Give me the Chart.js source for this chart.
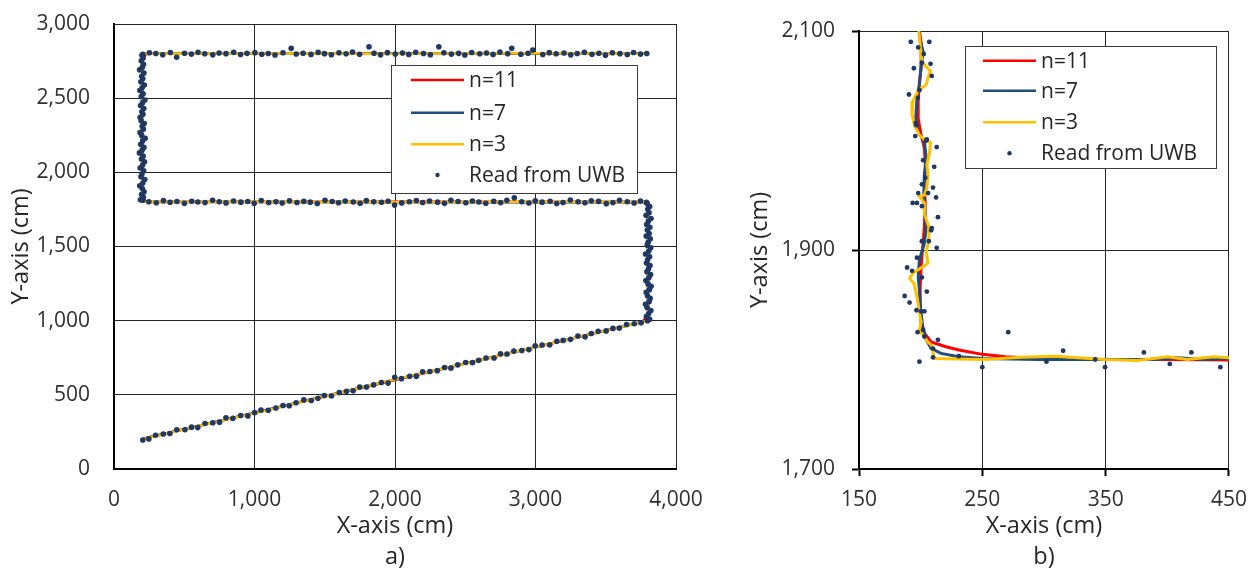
<!DOCTYPE html>
<html>
<head>
<meta charset="utf-8">
<script src="https://cdn.jsdelivr.net/npm/chart.js@4.4.1/dist/chart.umd.min.js"></script>
<style>
  body { margin: 0; background: #fff; }
  #wrapA { position: absolute; left: 0; top: 0; width: 740px; height: 570px; }
  #wrapB { position: absolute; left: 740px; top: 0; width: 518px; height: 570px; }
</style>
</head>
<body>
<div id="wrapA"><canvas id="chartA" width="740" height="570"></canvas></div>
<div id="wrapB"><canvas id="chartB" width="518" height="570"></canvas></div>
<script>
// ---------- panel a) : whole path ----------
var xTicksA = [0, 1000, 2000, 3000, 4000];
var yTicksA = [0, 500, 1000, 1500, 2000, 2500, 3000];

// UWB readings, leg 1 (diagonal), leg 2 (right side up), leg 3 (back left),
// leg 4 (left side up), leg 5 (top run)
var uwbAX = [205,248,296,351,398,447,505,552,596,648,703,751,797,846,902,953,1001,1046,1098,1152,
  1203,1247,1296,1351,1404,1452,1497,1548,1603,1655,1702,1749,1797,1848,1903,1951,1998,2046,2104,2152,
  2197,2248,2301,2353,2398,2447,2503,2552,2596,2648,2705,2751,2797,2846,2903,2953,2998,3047,3101,3152,
  3197,3249,3302,3353,3397,3446,3503,3551,3597,3648,3703,3752,3798,
  3812,3789,3805,3821,3794,3783,3809,3816,3797,3788,3811,3823,3801,3786,3807,3819,3793,3804,3815,3790,
  3798,3812,3783,3806,3820,3795,3802,3817,3788,3809,3796,3814,3791,3803,3822,3787,3808,3799,3813,3795,
  3790,3747,3702,3653,3598,3551,3504,3449,3397,3352,3303,3248,3196,3151,3104,3047,2998,2953,2902,2849,
  2796,2752,2703,2646,2597,2551,2504,2449,2398,2352,2303,2246,2197,2152,2102,2048,1997,1951,1904,1849,
  1796,1752,1703,1646,1598,1553,1502,1447,1397,1351,1302,1249,1197,1153,1101,1048,998,952,903,851,
  797,749,702,648,597,553,501,448,399,352,301,248,205,
  188,209,196,214,201,183,205,219,192,199,211,186,203,217,195,207,181,200,213,190,
  204,222,197,185,209,201,215,193,186,206,198,212,189,203,220,194,207,184,200,216,
  191,205,197,213,182,202,210,194,208,199,
  205,252,298,347,401,446,502,551,598,646,703,748,797,852,901,947,1003,1052,1098,1146,
  1203,1261,1297,1346,1402,1453,1498,1547,1601,1652,1698,1748,1815,1851,1897,1946,2002,2053,2098,2147,
  2203,2252,2312,2348,2401,2453,2497,2546,2603,2651,2698,2747,2802,2831,2896,2947,2981,3052,3098,3147,
  3203,3251,3297,3348,3402,3451,3498,3547,3601,3653,3698,3747,3792];
var uwbAY = [196,203,228,236,239,265,265,282,279,307,312,316,345,341,361,358,380,397,396,411,
  428,426,447,466,462,477,496,492,515,524,527,553,553,567,583,579,618,609,625,626,
  655,657,663,684,680,702,718,717,733,748,748,777,775,795,799,805,831,836,837,861,
  867,874,897,891,913,928,931,948,950,974,979,986,1000,
  1010,1028,1047,1069,1088,1111,1127,1150,1168,1191,1209,1232,1248,1270,1289,1311,1330,1349,1372,1388,
  1410,1431,1449,1468,1491,1509,1529,1552,1570,1588,1611,1630,1648,1671,1689,1710,1728,1751,1769,1790,
  1798,1806,1793,1802,1811,1796,1789,1804,1808,1795,1801,1813,1797,1790,1805,1799,1808,1793,1802,1828,
  1811,1796,1804,1792,1800,1807,1795,1803,1812,1791,1799,1806,1797,1810,1802,1794,1779,1805,1798,1801,
  1809,1792,1800,1806,1795,1803,1811,1790,1799,1804,1797,1808,1793,1801,1796,1810,1791,1803,1799,1807,
  1794,1802,1812,1796,1800,1805,1791,1803,1798,1809,1795,1801,1812,
  1815,1832,1851,1868,1891,1909,1928,1951,1970,1988,2011,2029,2048,2071,2090,2109,2131,2150,2168,2189,
  2212,2230,2249,2268,2291,2310,2329,2348,2371,2392,2408,2430,2451,2469,2488,2511,2529,2552,2570,2589,
  2610,2631,2648,2670,2691,2709,2728,2752,2770,2789,
  2795,2806,2801,2793,2808,2776,2803,2797,2810,2799,2792,2805,2800,2809,2794,2802,2807,2796,2801,2791,
  2806,2836,2798,2803,2795,2809,2800,2793,2806,2799,2811,2796,2847,2803,2792,2807,2798,2804,2795,2810,
  2801,2793,2847,2806,2797,2802,2791,2808,2799,2804,2795,2811,2800,2836,2796,2803,2825,2794,2807,2799,
  2805,2792,2801,2809,2796,2803,2790,2806,2800,2794,2808,2797,2801];

// smoothed tracks, panel a
var n11AX = [210,1000,2000,3000,3760,3795,3800,3800,3770,2000,230,205,200,205,235,2000,3790];
var n11AY = [205,378,600,822,992,1030,1400,1770,1800,1801,1800,1830,2300,2770,2800,2801,2800];
var n7AX = [205,1000,2000,3000,3780,3800,3802,3800,3785,2000,215,202,199,202,220,2000,3792];
var n7AY = [202,380,603,820,996,1015,1400,1785,1800,1799,1801,1815,2300,2785,2800,2800,2801];
var n3AX = [205,600,1000,1500,2000,2500,3000,3500,3798,3803,3797,3802,3000,2000,1000,205,198,203,200,1000,2000,3000,3795];
var n3AY = [200,290,376,489,605,710,823,933,1000,1200,1500,1800,1802,1798,1801,1800,2100,2500,2800,2801,2799,2802,2800];

// ---------- panel b) : zoom on the corner ----------
var xTicksB = [150, 250, 350, 450];
var yTicksB = [1700, 1900, 2100];

var uwbBX = [192,207,198,202.5,201,208,194.5,209,199,190.5,197.8,196,196.4,195.6,205,204.5,213,202,211,203.7,
  201,210,198,206,212.5,193.5,197,201,214,209,208.5,201,206.6,213,197,189,193,201,205,187,
  191,196.6,200.4,203,197.5,202,203,214,210,210,199,231,250,271,302,315.5,341.5,349.5,381,402,
  419.5,443];
var uwbBY = [2090,2090,2085,2079,2071,2070,2066,2059,2046,2042,2039,2016,2014,2004,2001,2000,1994,1982,1976,1966,
  1960,1957,1952,1952,1948,1943,1943,1940,1930,1920,1918,1908,1908,1902,1893,1884,1881,1875,1862,1858,
  1852,1845,1844,1844,1825,1827,1821,1818,1810,1802,1798,1803,1793,1825,1798,1808,1800,1793,1806.5,1796,
  1806.5,1793];

var n11BX = [199,199,201,200.4,199,198,198,200.4,203,204,203,203.7,203,201.7,200.4,199.6,199.6,200.4,203,208.5,220.5,231,250,269,295.6,349,403,450];
var n11BY = [2110,2100,2084,2066,2054,2036,2020,2005,1993,1975,1960,1943,1921,1903,1885,1866.5,1848,1833,1824,1816,1811.7,1808.7,1804.7,1802.6,1801,1800,1800,1799.5];
var n7BX = [199,199,202,200.4,199,197,196,198,203,204.5,203,202.5,203,204.5,203,199,198,199,200,201.7,204.5,208.5,216.6,231,250,295.6,349,389.5,408,429.6,450];
var n7BY = [2110,2094,2081,2069,2051,2039,2020,2008,1999,1984,1969,1950,1940,1921,1906,1891,1875.6,1863,1845,1830,1818,1810,1805.6,1802.6,1801,1800,1800,1800,1801.6,1800,1801];
var n3BX = [198.5,198.5,201,208,206.6,204.5,197.7,193.7,193,195,199,203,208,207,205,206,205,203,199,203,203,206.6,206.6,204.5,206,202,194,191,194.5,196.5,198,199,200.4,199,205.8,209,210,211,231,250,282,309,349,376,400,416,437.7,450];
var n3BY = [2110,2100,2072,2063,2060,2051,2045,2036,2024,2014,2005,2001,1998,1987,1978,1969,1957,1950,1949,1943,1933,1921,1909,1898,1888,1885,1879,1874,1869.6,1860,1851,1842,1834.5,1827,1816,1813,1807,1801,1800.5,1800,1802,1803,1800,1799,1802.6,1800,1802.6,1801.6];

var seriesLabels = ['n=11', 'n=7', 'n=3', 'Read from UWB'];
var seriesColors = ['#ff0000', '#1f4e79', '#ffc000', '#1f3864'];

Chart.defaults.font.family = "'Open Sans', 'DejaVu Sans', sans-serif";
Chart.defaults.color = '#303030';

function pts(xs, ys) {
  return xs.map(function(x, i) { return { x: x, y: ys[i] }; });
}

function makeSets(lines, ux, uy, lw, pr) {
  var sets = lines.map(function(l, i) {
    return {
      label: seriesLabels[i], data: pts(l[0], l[1]), showLine: true,
      borderColor: seriesColors[i], borderWidth: lw, pointRadius: 0,
      tension: 0, order: 3 - i
    };
  });
  sets.push({
    label: seriesLabels[3], data: pts(ux, uy), showLine: false,
    pointRadius: pr, pointBackgroundColor: seriesColors[3], pointBorderWidth: 0,
    order: 0
  });
  return sets;
}

// legend drawn inside the plot, like the original
var boxLegend = {
  id: 'boxLegend',
  afterDraw: function(chart, args, o) {
    var ctx = chart.ctx;
    ctx.save();
    ctx.fillStyle = '#fff';
    ctx.fillRect(o.x, o.y, o.w, o.h);
    ctx.strokeStyle = '#3c3c3c';
    ctx.lineWidth = 1;
    ctx.strokeRect(o.x + 0.5, o.y + 0.5, o.w, o.h);
    ctx.font = o.fontSize + "px 'Open Sans'";
    ctx.textBaseline = 'middle';
    chart.data.datasets.forEach(function(ds, i) {
      var y = o.rows[i];
      if (ds.showLine) {
        ctx.strokeStyle = ds.borderColor;
        ctx.lineWidth = 2.5;
        ctx.beginPath();
        ctx.moveTo(o.sx, y);
        ctx.lineTo(o.sx + o.sw, y);
        ctx.stroke();
      } else {
        ctx.fillStyle = ds.pointBackgroundColor;
        ctx.beginPath();
        ctx.arc(o.sx + o.sw / 2, y, 2.2, 0, Math.PI * 2);
        ctx.fill();
      }
      ctx.fillStyle = '#262626';
      ctx.fillText(ds.label, o.tx, y + 1);
    });
    ctx.restore();
  }
};

function fmt(v) { return v.toLocaleString('en-US'); }

function axis(ticks, min, max, opts) {
  return {
    type: 'linear', position: opts.pos, min: min, max: max,
    afterBuildTicks: function(s) { s.ticks = ticks.map(function(v) { return { value: v }; }); },
    afterFit: function(s) { if (opts.pos === 'left') s.width = opts.size; else s.height = opts.size; },
    grid: { color: '#262626', lineWidth: 1, drawTicks: opts.tickLen > 0, tickLength: opts.tickLen, tickColor: opts.tickColor, tickWidth: 2 },
    border: { display: true, color: '#000', width: 2 },
    ticks: { padding: opts.pad, font: { size: 21 }, color: '#303030', callback: fmt, maxRotation: 0 },
    title: { display: true, text: opts.title, color: '#262626', font: opts.titleFont, padding: opts.titlePad }
  };
}

new Chart(document.getElementById('chartA'), {
  type: 'scatter',
  data: {
    datasets: makeSets([[n11AX, n11AY], [n7AX, n7AY], [n3AX, n3AY]], uwbAX, uwbAY, 2.5, 2.8)
  },
  options: {
    responsive: false, animation: false,
    layout: { padding: { left: 0, top: 24, right: 64, bottom: 0 } },
    scales: {
      x: axis(xTicksA, 0, 4000, { pos: 'bottom', size: 101, tickLen: 0, tickColor: 'rgba(0,0,0,0)', pad: 18,
        title: ['X-axis (cm)', 'a)'], titleFont: { size: 23.5, lineHeight: '31px' }, titlePad: { top: 0, bottom: -2.5 } }),
      y: axis(yTicksA, 0, 3000, { pos: 'left', size: 114, tickLen: 20, tickColor: 'rgba(0,0,0,0)', pad: 4,
        title: 'Y-axis (cm)', titleFont: { size: 23.5 }, titlePad: { top: 6.9, bottom: 0 } })
    },
    plugins: {
      legend: { display: false }, tooltip: { enabled: false },
      boxLegend: { x: 391, y: 65, w: 246, h: 128, sx: 411, sw: 53, tx: 469, fontSize: 21, rows: [80, 112.7, 144.3, 175] }
    }
  },
  plugins: [boxLegend]
});

new Chart(document.getElementById('chartB'), {
  type: 'scatter',
  data: {
    datasets: makeSets([[n11BX, n11BY], [n7BX, n7BY], [n3BX, n3BY]], uwbBX, uwbBY, 3, 2.4)
  },
  options: {
    responsive: false, animation: false,
    layout: { padding: { left: 0, top: 31, right: 26, bottom: 0 } },
    scales: {
      x: axis(xTicksB, 150, 450, { pos: 'bottom', size: 101, tickLen: 7, tickColor: '#000', pad: 11,
        title: ['X-axis (cm)', 'b)'], titleFont: { size: 23.5, lineHeight: '31px' }, titlePad: { top: 0, bottom: -2.5 } }),
      y: axis(yTicksB, 1700, 2100, { pos: 'left', size: 119, tickLen: 7, tickColor: '#000', pad: 17,
        title: 'Y-axis (cm)', titleFont: { size: 23.5 }, titlePad: { top: 5.9, bottom: 0 } })
    },
    plugins: {
      legend: { display: false }, tooltip: { enabled: false },
      boxLegend: { x: 225, y: 46, w: 251, h: 122, sx: 243, sw: 53, tx: 301, fontSize: 21, rows: [60.7, 90.7, 122.3, 153.3] }
    }
  },
  plugins: [boxLegend]
});
</script>
</body>
</html>
